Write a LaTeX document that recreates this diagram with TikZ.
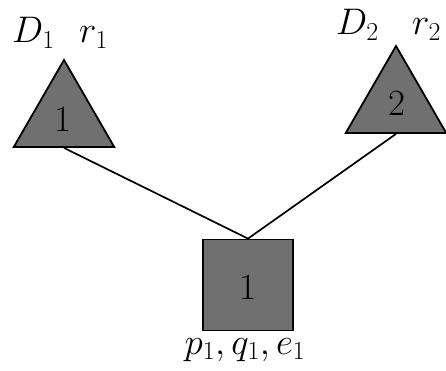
\RequirePackage{fix-cm}
\documentclass[tikz,border=0pt]{standalone}
\usetikzlibrary{shapes.geometric}
\definecolor{fillgray}{RGB}{112,112,112}
\tikzset{
  every node/.style={font=\fontsize{37}{44}\selectfont},
  tri/.style={regular polygon, regular polygon sides=3, draw=black, fill=fillgray, line width=1.8pt, minimum size=116pt, inner sep=0pt},
  sq/.style={rectangle, draw=black, fill=fillgray, line width=1.8pt, minimum width=90pt, minimum height=91pt, inner sep=0pt},
  link/.style={draw=black, line width=1.7pt},
  lab/.style={anchor=base west, inner sep=0pt}
}
\begin{document}
\begin{tikzpicture}[x=1pt,y=-1pt]
\useasboundingbox (0,0) rectangle (446,371);
\node[tri] (t1) at (64,118) {};
\node[tri] (t2) at (396,104) {};
\node[sq] (s1) at (248,285) {};
\draw[link] (t1.south) -- (s1.north);
\draw[link] (t2.south) -- (s1.north);
\node at (63,119) {1};
\node at (397,103) {2};
\node at (248,287) {1};
\node[lab] (d1) at (12,43) {$D_1$};
\node[lab] (r1) at (79,43) {$r_1$};
\node[lab] (d2) at (336,35) {$D_2$};
\node[lab] (r2) at (412,35) {$r_2$};
\node[anchor=base, inner sep=0pt] (pq) at (245,354) {$p_1, q_1, e_1$};
\end{tikzpicture}
\end{document}
